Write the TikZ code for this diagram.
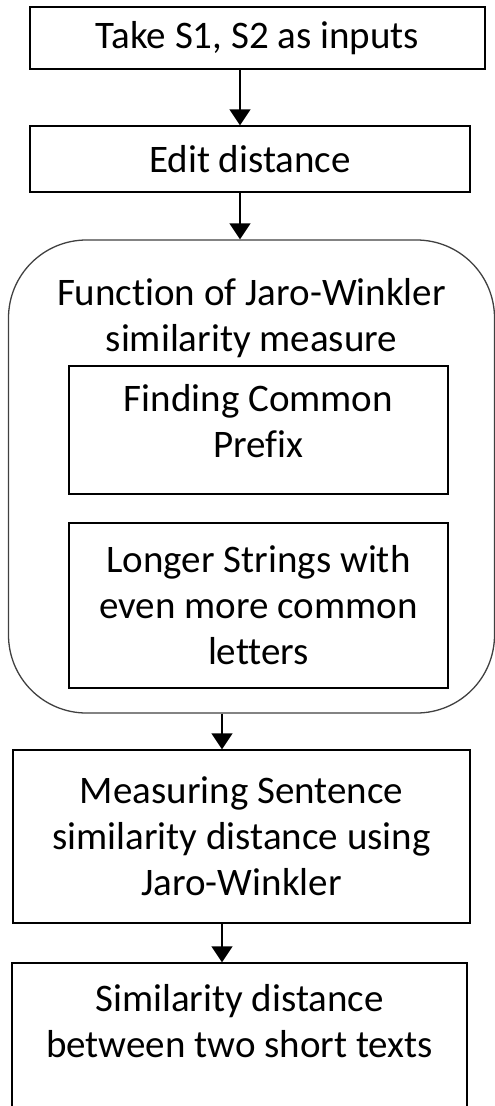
\documentclass[tikz,border=0pt]{standalone}
\usepackage{fontspec}
\setmainfont{Carlito}[Ligatures=NoCommon]
\usetikzlibrary{arrows.meta}
\begin{document}
\begin{tikzpicture}[x=1pt,y=-1pt,
  box/.style={draw=black,line width=1.3pt,inner sep=0pt,align=center,font=\fontsize{39}{46}\selectfont},
  txt/.style={inner sep=0pt,align=center,font=\fontsize{39}{46}\selectfont},
  arr/.style={draw=black,line width=1.3pt,-{Triangle[length=16pt,width=21pt]}}]
\useasboundingbox (0,0) rectangle (495,1106);
\node[box,minimum width=455pt,minimum height=62pt] (b1) at (257.5,38) {Take S1, S2 as inputs};
\node[box,minimum width=440pt,minimum height=66pt] (b2) at (250,159) {Edit distance};
\node[box,draw=black!75,rounded corners=78pt,minimum width=486pt,minimum height=473pt] (fn) at (251.5,476.5) {};
\node[txt] (fnt) at (251.5,318) {Function of Jaro-Winkler\\similarity measure};
\node[box,minimum width=379pt,minimum height=128pt] (i1) at (258.5,430) {};
\node[txt] (i1t) at (258.5,421) {Finding Common\\Prefix};
\node[box,minimum width=379pt,minimum height=165pt] (i2) at (258.5,605.5) {Longer Strings with\\even more common\\letters};
\node[box,minimum width=457pt,minimum height=173pt] (b4) at (241.5,836.5) {Measuring Sentence\\similarity distance using\\Jaro-Winkler};
\node[box,minimum width=455pt,minimum height=150pt] (b5) at (239.5,1038) {};
\node[txt] (b5t) at (239.5,1021) {Similarity distance\\between two short texts};
\coordinate (ax) at (240,0);
\coordinate (bx) at (222,0);
\draw[arr] (b1.south -| ax) -- (b2.north -| ax);
\draw[arr] (b2.south -| ax) -- (fn.north -| ax);
\draw[arr] (fn.south -| bx) -- (b4.north -| bx);
\draw[arr] (b4.south -| bx) -- (b5.north -| bx);
\end{tikzpicture}
\end{document}
